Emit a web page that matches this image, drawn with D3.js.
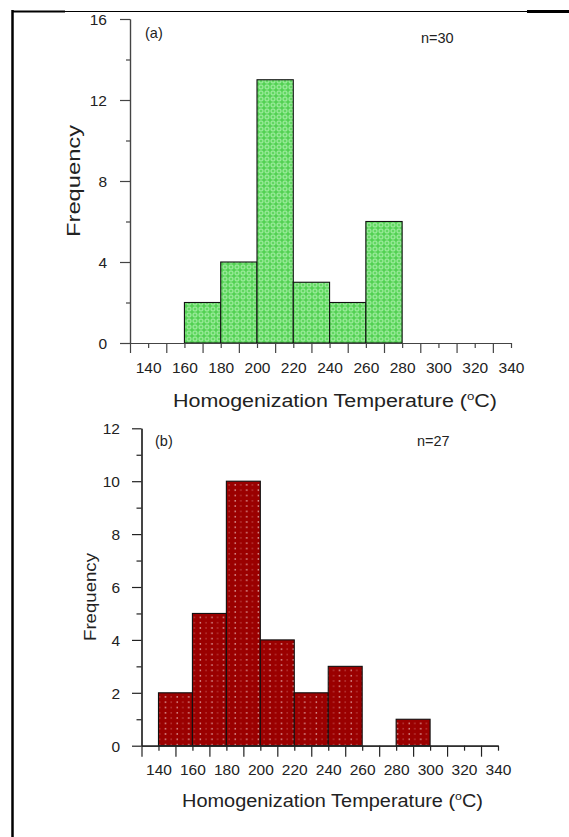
<!DOCTYPE html>
<html><head><meta charset="utf-8">
<script src="https://cdn.jsdelivr.net/npm/d3@7"></script>
<style>
html,body{margin:0;padding:0;background:#fff;}
svg{display:block;font-family:"Liberation Sans",Arial,sans-serif;}
</style></head>
<body>
<svg id="c" width="569" height="837"></svg>
<script>
// ---- data ----
const binWidth = 20;
const binStartsA = [160, 180, 200, 220, 240, 260];
const countsA    = [2, 4, 13, 3, 2, 6];
const binStartsB = [140, 160, 180, 200, 220, 240, 280];
const countsB    = [2, 5, 10, 4, 2, 3, 1];
const xLabelTicks = [140, 160, 180, 200, 220, 240, 260, 280, 300, 320, 340];
const xLongTicks  = [130, 150, 170, 190, 210, 230, 250, 270, 290, 310, 330];
const yMajorA = [0, 4, 8, 12, 16];
const yMinorA = [2, 6, 10, 14];
const yMajorB = [0, 2, 4, 6, 8, 10, 12];
const yMinorB = [1, 3, 5, 7, 9, 11];
const xTitle = "Homogenization Temperature (";
const panelLabels = ["(a)", "(b)"];
const nLabels = ["n=30", "n=27"];

const svg = d3.select("#c");
const defs = svg.append("defs");

// green pattern
const pg = defs.append("pattern").attr("id","patA").attr("patternUnits","userSpaceOnUse")
  .attr("width",6).attr("height",6);
pg.append("rect").attr("width",6).attr("height",6).attr("fill","#62d862");
pg.append("circle").attr("cx",3).attr("cy",3).attr("r",2).attr("fill","none").attr("stroke","#aef0ae").attr("stroke-width",0.9);
pg.append("circle").attr("cx",0).attr("cy",0).attr("r",0.8).attr("fill","#3fc43f");
pg.append("circle").attr("cx",6).attr("cy",0).attr("r",0.8).attr("fill","#3fc43f");
pg.append("circle").attr("cx",0).attr("cy",6).attr("r",0.8).attr("fill","#3fc43f");
pg.append("circle").attr("cx",6).attr("cy",6).attr("r",0.8).attr("fill","#3fc43f");

// red pattern
const pr = defs.append("pattern").attr("id","patB").attr("patternUnits","userSpaceOnUse")
  .attr("width",11.6).attr("height",5.3);
pr.append("rect").attr("width",11.6).attr("height",5.3).attr("fill","#9a0000");
pr.append("rect").attr("x",2.5).attr("y",2).attr("width",1.4).attr("height",1.2).attr("fill","#f0c8c8");
pr.append("rect").attr("x",8.3).attr("y",2).attr("width",1).attr("height",1.2).attr("fill","#d07070");

// border
svg.append("line").attr("x1",12.5).attr("x2",12.5).attr("y1",10).attr("y2",837).attr("stroke","#000").attr("stroke-width",2.5);
svg.append("line").attr("x1",12).attr("x2",65).attr("y1",11.5).attr("y2",11.5).attr("stroke","#000").attr("stroke-width",2);
svg.append("line").attr("x1",65).attr("x2",527).attr("y1",11.5).attr("y2",11.5).attr("stroke","#000").attr("stroke-width",1);
svg.append("line").attr("x1",527).attr("x2",569).attr("y1",11.5).attr("y2",11.5).attr("stroke","#000").attr("stroke-width",3);

function panel(cfg){
  const g = svg.append("g");
  const x = d3.scaleLinear().domain([130,340]).range([cfg.x0, cfg.x1]);
  const y = d3.scaleLinear().domain([0, cfg.yMax]).range([cfg.y0, cfg.y1]);
  const axisColor = cfg.axisColor;

  // bars
  g.selectAll("rect.bar").data(cfg.starts.map((s,i)=>({s, c: cfg.counts[i]})))
    .enter().append("rect").attr("class","bar")
    .attr("x", d=>x(d.s)).attr("width", d=>x(d.s+binWidth)-x(d.s))
    .attr("y", d=>y(d.c)).attr("height", d=>y(0)-y(d.c))
    .attr("fill", cfg.fill).attr("stroke","#111").attr("stroke-width",1.1);

  // x axis long ticks
  g.append("g").attr("transform",`translate(0,${cfg.y0})`)
    .call(d3.axisBottom(x).tickValues(xLongTicks).tickSize(cfg.longTick).tickSizeOuter(0).tickFormat(""));
  const xs = g.append("g").attr("transform",`translate(0,${cfg.y0})`)
    .call(d3.axisBottom(x).tickValues(xLabelTicks).tickSize(cfg.shortTick).tickSizeOuter(0).tickFormat(d3.format("d")));
  xs.selectAll("text").attr("y", cfg.xLabelDy).attr("dy",0).attr("font-size",cfg.tickFont).attr("fill","#222")
    .attr("font-family","Liberation Sans, Arial, sans-serif");
  // y axis
  const ym = g.append("g").attr("transform",`translate(${cfg.x0},0)`)
    .call(d3.axisLeft(y).tickValues(cfg.yMajor).tickSize(cfg.yMajorTick).tickSizeOuter(0).tickFormat(d3.format("d")));
  ym.selectAll("text").attr("x", -cfg.yLabelGap).attr("dy","0.36em").attr("font-size",cfg.tickFont).attr("fill","#222")
    .attr("font-family","Liberation Sans, Arial, sans-serif");
  g.append("g").attr("transform",`translate(${cfg.x0},0)`)
    .call(d3.axisLeft(y).tickValues(cfg.yMinor).tickSize(cfg.yMinorTick).tickSizeOuter(0).tickFormat(""));
  g.selectAll(".domain").attr("stroke",axisColor).attr("stroke-width",1.2);
  g.selectAll(".tick line").attr("stroke",axisColor).attr("stroke-width",1.2);

  // x title
  const t = g.append("text").attr("x", cfg.titleX).attr("y", cfg.titleY)
    .attr("font-size", cfg.titleFont).attr("fill","#222")
    .attr("textLength", cfg.titleLen).attr("lengthAdjust","spacingAndGlyphs");
  t.append("tspan").text(xTitle);
  t.append("tspan").attr("font-size", cfg.titleFont*0.62).attr("dy", -cfg.titleFont*0.38).text("o");
  t.append("tspan").attr("dy", cfg.titleFont*0.38).text("C)");

  // y title
  g.append("text").attr("transform",`translate(${cfg.yTitleX},${cfg.yTitleY}) rotate(-90)`)
    .attr("text-anchor","middle").attr("font-size",cfg.yTitleFont).attr("fill","#222")
    .attr("textLength", cfg.yTitleLen).attr("lengthAdjust","spacingAndGlyphs")
    .text("Frequency");

  g.append("text").attr("x",cfg.pl[0]).attr("y",cfg.pl[1]).attr("font-size",cfg.smallFont).attr("fill","#222").text(cfg.panelLabel);
  g.append("text").attr("x",cfg.nl[0]).attr("y",cfg.nl[1]).attr("font-size",cfg.smallFont).attr("fill","#222").text(cfg.nLabel);
}

panel({x0:130, x1:511, y0:343, y1:19, yMax:16, starts:binStartsA, counts:countsA, fill:"url(#patA)",
  yMajor:yMajorA, yMinor:yMinorA, longTick:10, shortTick:5, yMajorTick:10, yMinorTick:4,
  xLabelDy:30, tickFont:15.5, yLabelGap:23, axisColor:"#444",
  titleX:173, titleY:407, titleFont:17.5, titleLen:324,
  yTitleX:80, yTitleY:181, yTitleFont:18, yTitleLen:112,
  pl:[145,38], nl:[421,43], smallFont:14.5, panelLabel:panelLabels[0], nLabel:nLabels[0]});

panel({x0:141.5, x1:498, y0:745.7, y1:428.3, yMax:12, starts:binStartsB, counts:countsB, fill:"url(#patB)",
  yMajor:yMajorB, yMinor:yMinorB, longTick:11, shortTick:5, yMajorTick:9.5, yMinorTick:5,
  xLabelDy:29, tickFont:15.5, yLabelGap:21.5, axisColor:"#222",
  titleX:182, titleY:807, titleFont:17.5, titleLen:301,
  yTitleX:96, yTitleY:597, yTitleFont:17, yTitleLen:88,
  pl:[155,446], nl:[417,446], smallFont:14.5, panelLabel:panelLabels[1], nLabel:nLabels[1]});
</script>
</body></html>
